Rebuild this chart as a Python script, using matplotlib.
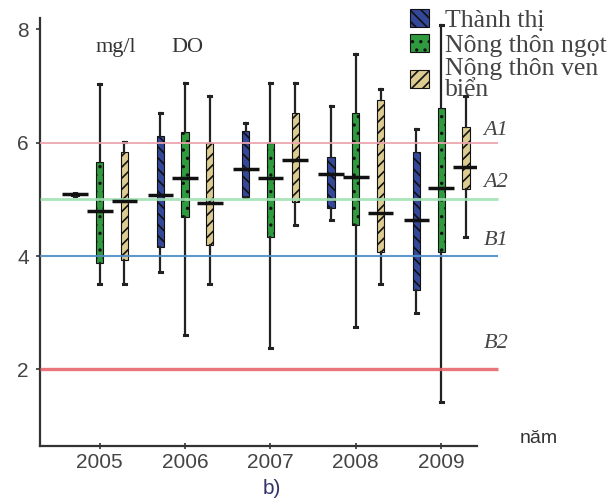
import matplotlib
matplotlib.use("Agg")
import matplotlib.pyplot as plt
from matplotlib.patches import Patch
import numpy as np

# ---------------- data ----------------
years = ["2005", "2006", "2007", "2008", "2009"]
series = ["Thành thị", "Nông thôn ngọt", "Nông thôn ven\nbiển"]

# per series: whisker low, Q1, median, Q3, whisker high (one value per year)
thanh_thi_lo  = [5.06, 3.72, 5.04, 4.64, 3.00]
thanh_thi_q1  = [5.06, 4.16, 5.04, 4.85, 3.40]
thanh_thi_med = [5.09, 5.08, 5.54, 5.45, 4.64]
thanh_thi_q3  = [5.12, 6.11, 6.20, 5.75, 5.84]
thanh_thi_hi  = [5.12, 6.53, 6.35, 6.65, 6.25]

ngot_lo  = [3.50, 2.60, 2.38, 2.75, 1.42]
ngot_q1  = [3.88, 4.69, 4.34, 4.55, 4.07]
ngot_med = [4.80, 5.38, 5.38, 5.40, 5.20]
ngot_q3  = [5.66, 6.19, 6.00, 6.53, 6.62]
ngot_hi  = [7.03, 7.06, 7.06, 7.56, 8.07]

venbien_lo  = [3.50, 3.50, 4.55, 3.50, 4.33]
venbien_q1  = [3.93, 4.19, 4.95, 4.07, 5.18]
venbien_med = [4.97, 4.94, 5.70, 4.76, 5.58]
venbien_q3  = [5.84, 6.00, 6.53, 6.76, 6.28]
venbien_hi  = [6.02, 6.83, 7.06, 6.94, 6.83]

limit_names = ["A1", "A2", "B1", "B2"]
limit_values = [6, 5, 4, 2]

yticks = [2, 4, 6, 8]

# ---------------- style ----------------
plt.rcParams["hatch.linewidth"] = 1.2
SERIF = ["Liberation Serif", "DejaVu Serif"]
SANS = ["Liberation Sans", "DejaVu Sans"]

fig = plt.figure(figsize=(6.11, 4.99), dpi=100)
ax = fig.add_axes([40 / 611, 1 - 446 / 499, (477 - 40) / 611, (446 - 18) / 499])

x_left, x_right = -0.70, 4.42
ax.set_xlim(x_left, x_right)
ax.set_ylim(0.65, 8.2)

styles = [
    dict(face="#34489a", hatch="\\\\\\", offset=-0.29),
    dict(face="#2f9a3e", hatch="..", offset=0.0),
    dict(face="#dccc92", hatch="///", offset=0.29),
]
data = [
    (thanh_thi_lo, thanh_thi_q1, thanh_thi_med, thanh_thi_q3, thanh_thi_hi),
    (ngot_lo, ngot_q1, ngot_med, ngot_q3, ngot_hi),
    (venbien_lo, venbien_q1, venbien_med, venbien_q3, venbien_hi),
]

base = np.arange(len(years))
handles = []
for (lo, q1, med, q3, hi), st, name in zip(data, styles, series):
    stats = [dict(whislo=a, q1=b, med=c, q3=d, whishi=e, fliers=[])
             for a, b, c, d, e in zip(lo, q1, med, q3, hi)]
    pos = base + st["offset"]
    ax.bxp(stats, positions=pos, widths=0.085, patch_artist=True,
           showfliers=False, manage_ticks=False,
           boxprops=dict(facecolor=st["face"], edgecolor="#111111",
                         hatch=st["hatch"], linewidth=0.8),
           whiskerprops=dict(color="#222222", linewidth=1.6),
           capprops=dict(color="#222222", linewidth=2.2),
           capwidths=0.035,
           medianprops=dict(linewidth=0),
           zorder=2)
    ax.hlines(med, pos - 0.15, pos + 0.15, color="#111111", linewidth=2.5, zorder=5)
    handles.append(Patch(facecolor=st["face"], edgecolor="#111111",
                         hatch=st["hatch"], linewidth=0.8, label=name))

# limit reference lines
line_colors = ["#eba3ad", "#9fe0b2", "#4f8cc9", "#e5666a"]
line_widths = [1.4, 2.0, 1.5, 2.4]
label_dy = [0.22, 0.29, 0.28, 0.45]
for v, nm, c, lw, dy in zip(limit_values, limit_names, line_colors, line_widths, label_dy):
    ax.hlines(v, x_left, 4.67, color=c, linewidth=lw, zorder=3, alpha=0.9, clip_on=False)
    ax.text(4.64, v + dy, nm, fontsize=16, style="italic", family=SERIF,
            color="#444444", ha="center", va="center", clip_on=False)

# axes styling
for s in ["top", "right"]:
    ax.spines[s].set_visible(False)
for s in ["left", "bottom"]:
    ax.spines[s].set_linewidth(1.6)
    ax.spines[s].set_color("#333333")

ax.set_xticks(base)
ax.set_xticklabels(years, family=SANS, fontsize=15, color="#444444")
ax.set_yticks(yticks)
ax.set_yticklabels([str(t) for t in yticks], family=SANS, fontsize=15, color="#444444")
ax.tick_params(axis="x", direction="inout", length=4, width=1.2, pad=3, colors="#333333")
ax.tick_params(axis="y", direction="out", length=3, width=1.2, pad=5, colors="#333333")
for lab in ax.get_xticklabels() + ax.get_yticklabels():
    lab.set_color("#444444")

# annotations
ax.text(0.19, 7.68, "mg/l", fontsize=16, family=SERIF, color="#333333", ha="center", va="center")
ax.text(1.03, 7.68, "DO", fontsize=16, family=SERIF, color="#333333", ha="center", va="center")
ax.text(5.14, 0.78, "năm", fontsize=14, family=SANS, color="#333333",
        ha="center", va="center", clip_on=False)
fig.text(272 / 611, 1 - 488 / 499, "b)", fontsize=15, family=SANS, color="#333366",
         ha="center", va="center")

leg = fig.legend(handles=handles, loc="upper left", bbox_to_anchor=(410 / 611, 1 - 9 / 499),
                 bbox_transform=fig.transFigure, frameon=False, borderpad=0,
                 borderaxespad=0, handlelength=0.75, handleheight=0.7,
                 handletextpad=0.6, labelspacing=0.06,
                 prop=dict(family=SERIF, size=18.5))
for t in leg.get_texts():
    t.set_color("#444444")
    t.set_linespacing(0.95)

fig.savefig("out.png", dpi=100)
